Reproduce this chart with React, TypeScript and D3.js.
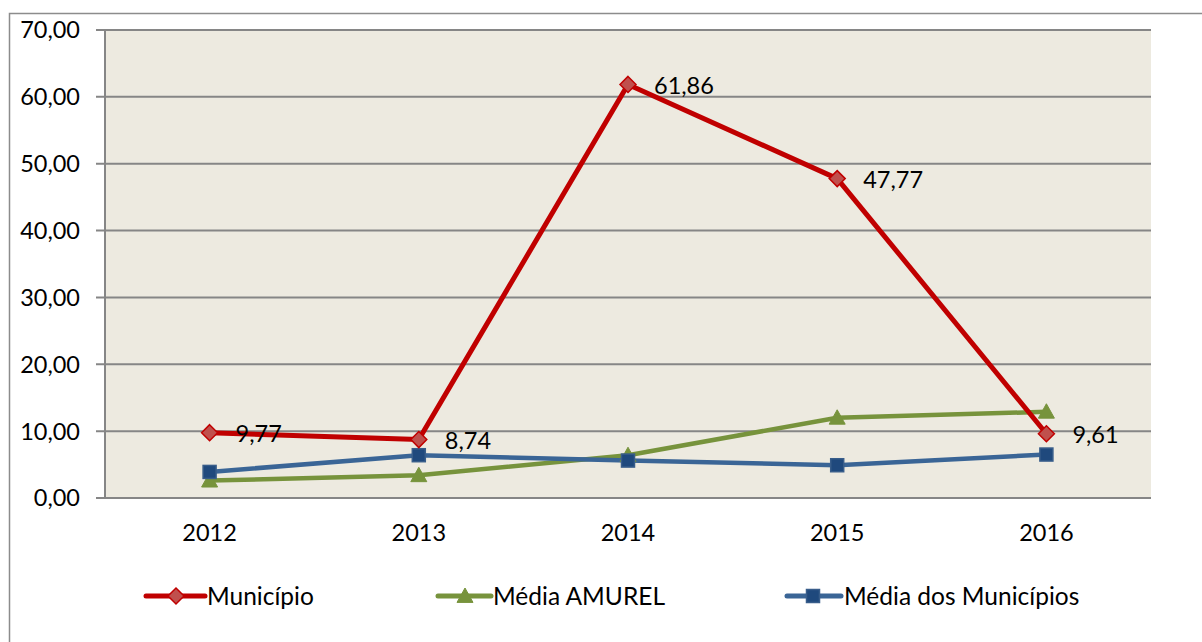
import React from "react";
import * as d3 from "d3";

const categories = ["2012", "2013", "2014", "2015", "2016"];
const municipio = [9.77, 8.74, 61.86, 47.77, 9.61];
const mediaAmurel = [2.6, 3.4, 6.4, 12.0, 12.9];
const mediaMunicipios = [3.9, 6.4, 5.6, 4.9, 6.5];
const yTicks = [0, 10, 20, 30, 40, 50, 60, 70];
const seriesNames = ["Município", "Média AMUREL", "Média dos Municípios"];

const W = 1202, H = 642;
const plot = { left: 105, right: 1151, top: 30, bottom: 498 };
const font = "Lato, 'Open Sans', sans-serif";
const FS = 23.5;

export default function App() {
  const x = d3.scaleBand<string>().domain(categories).range([plot.left, plot.right]);
  const y = d3.scaleLinear().domain([0, 70]).range([plot.bottom, plot.top]);
  const cx = (c: string) => (x(c) as number) + x.bandwidth() / 2;
  const fmt = (v: number) => v.toFixed(2).replace(".", ",");
  const line = d3.line<number>().x((_, i) => cx(categories[i])).y((d) => y(d));

  const diamond = (px: number, py: number, r: number) =>
    `M${px},${py - r}L${px + r},${py}L${px},${py + r}L${px - r},${py}Z`;
  const tri = (px: number, py: number, r: number) =>
    `M${px},${py - r}L${px + r},${py + r * 0.8}L${px - r},${py + r * 0.8}Z`;

  const legendItems = [
    { name: seriesNames[0], x0: 146, x1: 205, mx: 176, tx: 207, kind: "d" },
    { name: seriesNames[1], x0: 438, x1: 491, mx: 465, tx: 493, kind: "t" },
    { name: seriesNames[2], x0: 787, x1: 841, mx: 813, tx: 844, kind: "s" },
  ];
  const ly = 596;

  const marker = (kind: string, px: number, py: number, key: any) => {
    if (kind === "d")
      return <path key={key} d={diamond(px, py, 8)} fill="#C0504D" stroke="#C00000" strokeWidth={1.5} />;
    if (kind === "t")
      return <path key={key} d={tri(px, py, 8)} fill="#77933C" stroke="#77933C" strokeWidth={1} />;
    return <rect key={key} x={px - 6.5} y={py - 6.5} width={13} height={13} fill="#1F497D" stroke="#385D8A" strokeWidth={1.5} />;
  };

  return (
    <svg width={W} height={H} style={{ position: "absolute", left: 0, top: 0 }} fontFamily={font}>
      <rect x={0} y={0} width={W} height={H} fill="#fff" />
      <rect x={9.5} y={13.5} width={W + 10} height={H + 10} fill="none" stroke="#8C8C8C" strokeWidth={1.5} />
      <rect x={plot.left} y={plot.top} width={plot.right - plot.left} height={plot.bottom - plot.top} fill="#EDEAE0" />
      {yTicks.map((t) => (
        <g key={t}>
          <line x1={96} x2={plot.right} y1={y(t)} y2={y(t)} stroke="#868686" strokeWidth={2} />
          <text x={80} y={y(t)} dy="0.36em" textAnchor="end" fontSize={FS} fill="#000">{fmt(t)}</text>
        </g>
      ))}
      <line x1={plot.left} x2={plot.left} y1={plot.top} y2={plot.bottom} stroke="#868686" strokeWidth={2} />
      {categories.map((c) => (
        <text key={c} x={cx(c)} y={533} dy="0.36em" textAnchor="middle" fontSize={FS} fill="#000">{c}</text>
      ))}
      <path d={line(mediaAmurel) || ""} fill="none" stroke="#77933C" strokeWidth={4.5} strokeLinejoin="round" />
      <path d={line(mediaMunicipios) || ""} fill="none" stroke="#3A6596" strokeWidth={4.5} strokeLinejoin="round" />
      <path d={line(municipio) || ""} fill="none" stroke="#C00000" strokeWidth={5} strokeLinejoin="round" />
      {mediaAmurel.map((v, i) => marker("t", cx(categories[i]), y(v), "a" + i))}
      {mediaMunicipios.map((v, i) => marker("s", cx(categories[i]), y(v), "b" + i))}
      {municipio.map((v, i) => marker("d", cx(categories[i]), y(v), "c" + i))}
      {municipio.map((v, i) => (
        <text key={"l" + i} x={cx(categories[i]) + 26} y={y(v) + 1} dy="0.36em" fontSize={FS} fill="#000">
          {v.toFixed(2).replace(".", ",")}
        </text>
      ))}
      {legendItems.map((it, i) => (
        <g key={it.name}>
          <line x1={it.x0} x2={it.x1} y1={ly} y2={ly}
            stroke={i === 0 ? "#C00000" : i === 1 ? "#77933C" : "#3A6596"} strokeWidth={5} strokeLinecap="round" />
          {marker(it.kind, it.mx, ly, "lm" + i)}
          <text x={it.tx} y={ly} dy="0.36em" fontSize={24.5} fill="#000">{it.name}</text>
        </g>
      ))}
    </svg>
  );
}
